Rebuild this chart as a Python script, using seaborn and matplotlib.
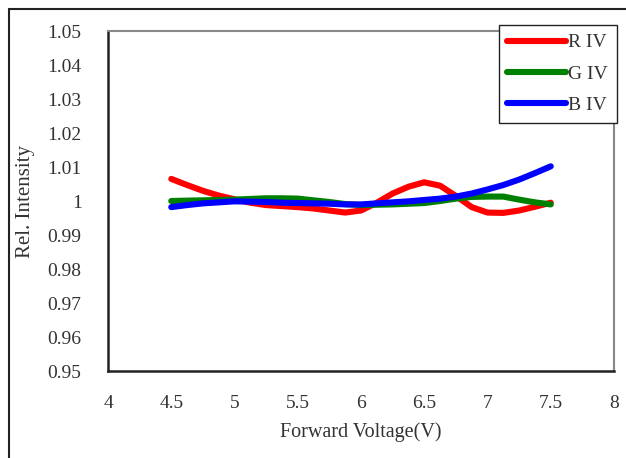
import matplotlib
matplotlib.use("Agg")
import matplotlib.pyplot as plt
from matplotlib.lines import Line2D
import seaborn as sns
import pandas as pd

voltage = [4.5, 4.625, 4.75, 4.875, 5.0, 5.125, 5.25, 5.375, 5.5, 5.625, 5.75, 5.875, 6.0,
           6.125, 6.25, 6.375, 6.5, 6.625, 6.75, 6.875, 7.0, 7.125, 7.25, 7.375, 7.5]
r_iv = [1.0065, 1.0047, 1.0030, 1.0016, 1.0005, 0.9995, 0.9988, 0.9985, 0.9982, 0.9978, 0.9972,
        0.9966, 0.9972, 0.9995, 1.0022, 1.0042, 1.0055, 1.0045, 1.0015, 0.9982, 0.9966, 0.9965,
        0.9972, 0.9983, 0.9995]
g_iv = [1.0000, 1.0001, 1.0002, 1.0003, 1.0004, 1.0006, 1.0008, 1.0008, 1.0007, 1.0002, 0.9997,
        0.9991, 0.9988, 0.9989, 0.9990, 0.9992, 0.9994, 1.0000, 1.0007, 1.0012, 1.0013, 1.0013,
        1.0004, 0.9996, 0.9990]
b_iv = [0.9982, 0.9988, 0.9993, 0.9996, 0.9999, 0.9998, 0.9997, 0.9995, 0.9994, 0.9993, 0.9992,
        0.9990, 0.9990, 0.9993, 0.9996, 0.9999, 1.0003, 1.0007, 1.0013, 1.0022, 1.0034, 1.0047,
        1.0063, 1.0082, 1.0102]
series_names = ["R IV", "G IV", "B IV"]
x_ticks = [4, 4.5, 5, 5.5, 6, 6.5, 7, 7.5, 8]
x_tick_labels = ["4", "4.5", "5", "5.5", "6", "6.5", "7", "7.5", "8"]
y_ticks = [0.95, 0.96, 0.97, 0.98, 0.99, 1.0, 1.01, 1.02, 1.03, 1.04, 1.05]
y_tick_labels = ["0.95", "0.96", "0.97", "0.98", "0.99", "1", "1.01", "1.02", "1.03", "1.04", "1.05"]

df = pd.concat([
    pd.DataFrame({"V": voltage, "I": vals, "series": name})
    for name, vals in zip(series_names, [r_iv, g_iv, b_iv])
])

sns.set_theme(style="white")
plt.rcParams["font.family"] = ["Liberation Serif", "DejaVu Serif"]

fig = plt.figure(figsize=(6.26, 4.58), dpi=100)
ax = fig.add_axes([108 / 626, 87 / 458, 506 / 626, 340 / 458])

palette = {"R IV": "#ff0000", "G IV": "#008000", "B IV": "#0000ff"}
sns.lineplot(data=df, x="V", y="I", hue="series", palette=palette, linewidth=4.4,
             ax=ax, legend=True, sort=False)
for line in ax.lines:
    line.set_solid_capstyle("round")
    line.set_solid_joinstyle("round")

ax.set_xlim(4, 8)
ax.set_ylim(0.95, 1.05)
ax.set_xticks(x_ticks)
ax.set_xticklabels(x_tick_labels)
ax.set_yticks(y_ticks)
ax.set_yticklabels(y_tick_labels)
ax.tick_params(axis="both", direction="in", length=5, width=1, labelsize=14,
               colors="#222222", labelcolor="#333333")
ax.tick_params(axis="x", pad=17)
ax.tick_params(axis="y", pad=19)
ax.set_xlabel("Forward Voltage(V)", fontsize=14.5, color="#333333", labelpad=8)
ax.set_ylabel("Rel. Intensity", fontsize=15, color="#333333", labelpad=9)

for side in ["left", "bottom"]:
    ax.spines[side].set_color("#222222")
    ax.spines[side].set_linewidth(1.8)
for side in ["top", "right"]:
    ax.spines[side].set_color("#888888")
    ax.spines[side].set_linewidth(1.5)

handles, labels = ax.get_legend_handles_labels()
leg = ax.legend(handles, labels, loc="upper right",
                bbox_to_anchor=(617 / 626, 433 / 458), bbox_transform=fig.transFigure,
                frameon=True, fancybox=False, edgecolor="#222222", framealpha=1,
                fontsize=14, handlelength=3.0, handletextpad=0.15, labelspacing=0.7,
                borderpad=0.45, borderaxespad=0)
leg.get_frame().set_linewidth(1.0)
for h in leg.get_lines():
    h.set_linewidth(4.4)
    h.set_solid_capstyle("round")
for t in leg.get_texts():
    t.set_color("#333333")

fig.add_artist(Line2D([9 / 626, 9 / 626], [0, 1 - 9 / 458], transform=fig.transFigure,
                      color="#222222", linewidth=1.5))
fig.add_artist(Line2D([9 / 626, 1], [1 - 9 / 458, 1 - 9 / 458], transform=fig.transFigure,
                      color="#222222", linewidth=1.5))

fig.savefig("out.png", dpi=100)
